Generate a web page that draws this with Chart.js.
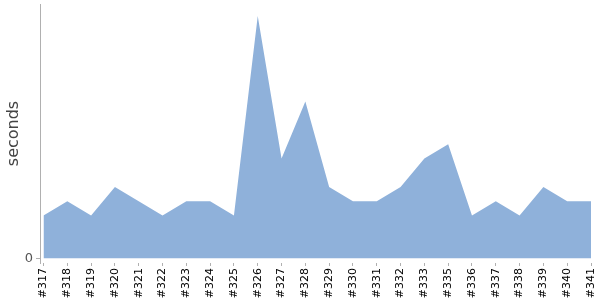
<!DOCTYPE html>
<html>
<head>
<meta charset="utf-8">
<script src="https://cdn.jsdelivr.net/npm/chart.js@4/dist/chart.umd.min.js"></script>
<style>
    html, body { margin: 0; padding: 0; background: #fff; }
    #wrap { width: 600px; height: 300px; }
</style>
</head>
<body>
<div id="wrap"><canvas id="myChart" width="600" height="300"></canvas></div>
<script>
// build numbers on the x axis
const builds = [
    '#317', '#318', '#319', '#320', '#321', '#322', '#323', '#324', '#325', '#326', '#327', '#328',
    '#329', '#330', '#331', '#332', '#333', '#335', '#336', '#337', '#338', '#339', '#340', '#341'
]
// duration of each build
const seconds = [
    3, 4, 3, 5, 4, 3, 4, 4, 3, 17, 7, 11,
    5, 4, 4, 5, 7, 8, 3, 4, 3, 5, 4, 4
]
const yTicks = [0]

const axisColor = '#b0b0b0'

const ctx = document.getElementById('myChart')
const myChart = new Chart(ctx, {
    type: 'line',
    data: {
        datasets: [{
            data: seconds.map((v, i) => ({ x: i, y: v })),
            fill: 'origin',
            tension: 0,
            borderWidth: 0,
            pointRadius: 0,
            backgroundColor: '#8fb1da'
        }]
    },
    options: {
        responsive: false,
        animation: false,
        layout: { padding: { top: 4, right: 9, left: 0, bottom: 0 } },
        plugins: {
            legend: { display: false },
            tooltip: { enabled: false }
        },
        scales: {
            x: {
                type: 'linear',
                min: -0.147,
                max: 23,
                afterBuildTicks: (scale) => {
                    scale.ticks = builds.map((b, i) => ({ value: i }))
                },
                afterFit: (scale) => {
                    scale.height = 37
                    scale.paddingLeft = 0
                    scale.paddingRight = 0
                },
                grid: {
                    drawOnChartArea: false,
                    tickLength: 3,
                    color: axisColor
                },
                border: { display: false },
                ticks: {
                    autoSkip: false,
                    maxRotation: 90,
                    minRotation: 90,
                    padding: 2,
                    color: '#000',
                    font: { family: 'DejaVu Sans', size: 11 },
                    callback: (v) => builds[v]
                }
            },
            y: {
                min: -0.33,
                max: 17.85,
                afterBuildTicks: (scale) => {
                    scale.ticks = yTicks.map((v) => ({ value: v }))
                },
                afterFit: (scale) => {
                    scale.width = 40
                    scale.paddingTop = 0
                    scale.paddingBottom = 0
                },
                grid: {
                    drawOnChartArea: false,
                    tickLength: 4,
                    color: axisColor
                },
                border: { color: axisColor },
                ticks: {
                    padding: 3,
                    color: '#555',
                    font: { family: 'DejaVu Sans', size: 13 }
                },
                title: {
                    display: true,
                    text: 'seconds',
                    color: '#444',
                    padding: { top: 4, bottom: 0 },
                    font: { family: 'DejaVu Sans', size: 16 }
                }
            }
        }
    }
})
</script>
</body>
</html>
